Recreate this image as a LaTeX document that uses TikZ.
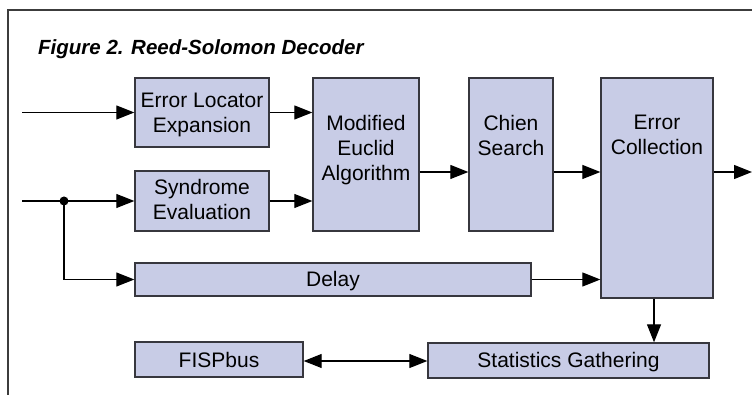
\documentclass[tikz,border=0pt]{standalone}
\usepackage{fontspec}
\setmainfont{Liberation Sans}
\usetikzlibrary{arrows.meta}
\definecolor{boxfill}{RGB}{200,204,230}
\definecolor{boxline}{RGB}{55,55,62}
\definecolor{framecol}{RGB}{60,60,60}
\begin{document}
\begin{tikzpicture}[x=1pt,y=-1pt,
  box/.style={draw=boxline, fill=boxfill, line width=1.4pt, inner sep=0pt, rectangle},
  lbl/.style={font=\fontsize{21}{25}\selectfont, inner sep=0pt, align=center, text=black},
  arr/.style={line width=1.3pt, draw=black, -{Triangle[length=18pt,width=14pt]}},
  dblarr/.style={line width=1.3pt, draw=black, {Triangle[length=18pt,width=14pt]}-{Triangle[length=18pt,width=14pt]}},
  ]
\useasboundingbox (0,0) rectangle (752,395);
% frame
\coordinate (fr1) at (752,10);
\coordinate (fr2) at (8,10);
\coordinate (fr3) at (8,395);
\draw[framecol, line width=1.3pt] (fr1) -- (fr2) -- (fr3);
% title
\node[anchor=base west, inner sep=0pt, font=\fontsize{20.5}{25}\selectfont\bfseries\itshape] (title) at (38,55) {Figure 2. Reed-Solomon Decoder};
% boxes
\node[box, minimum width=134pt, minimum height=69pt] (errloc) at (202,112.5) {};
\node[box, minimum width=134pt, minimum height=60pt] (synd) at (202,201) {};
\node[box, minimum width=106pt, minimum height=153pt] (euclid) at (366,154.5) {};
\node[box, minimum width=84pt, minimum height=153pt] (chien) at (511,154.5) {};
\node[box, minimum width=112pt, minimum height=220pt] (errcol) at (657,188) {};
\node[box, minimum width=396pt, minimum height=33pt] (delay) at (333,279.5) {};
\node[box, minimum width=168pt, minimum height=35pt] (fisp) at (219,359.5) {};
\node[box, minimum width=281pt, minimum height=35pt] (stats) at (568.5,360.5) {};
% labels
\node[lbl, anchor=north] (errloc-t) at (202,92.5) {Error Locator\\Expansion};
\node[lbl, anchor=north] (synd-t) at (202,179) {Syndrome\\Evaluation};
\node[lbl, anchor=north] (euclid-t) at (366,115) {Modified\\Euclid\\Algorithm};
\node[lbl, anchor=north] (chien-t) at (511,115) {Chien\\Search};
\node[lbl, anchor=north] (errcol-t) at (657,115) {Error\\Collection};
\node[lbl, anchor=base] (delay-t) at (333,287) {Delay};
\node[lbl, anchor=base] (fisp-t) at (219,367) {FISPbus};
\node[lbl, anchor=base] (stats-t) at (568.5,367) {Statistics Gathering};
% connectors
\coordinate (in1) at (22,112.5);
\coordinate (in2) at (22,201);
\coordinate (jct) at (64,201);
\coordinate (lvl) at (0,172);
\coordinate (out) at (752,172);
\coordinate (fs) at (0,361);
\draw[arr] (in1) -- (errloc.west);
\draw[arr] (errloc.east) -- (euclid.west |- errloc.east);
\draw[arr] (in2) -- (synd.west);
\draw[arr] (synd.east) -- (euclid.west |- synd.east);
\fill (jct) circle (4.5pt);
\draw[arr] (jct) |- (delay.west);
\draw[arr] (euclid.east |- lvl) -- (chien.west |- lvl);
\draw[arr] (chien.east |- lvl) -- (errcol.west |- lvl);
\draw[arr] (errcol.east |- lvl) -- (out);
\draw[arr] (delay.east) -- (errcol.west |- delay.east);
\draw[arr] ([xshift=-3pt]errcol.south) -- ([xshift=-3pt]errcol.south |- stats.north);
\draw[dblarr] (fisp.east |- fs) -- (stats.west |- fs);
\end{tikzpicture}
\end{document}
